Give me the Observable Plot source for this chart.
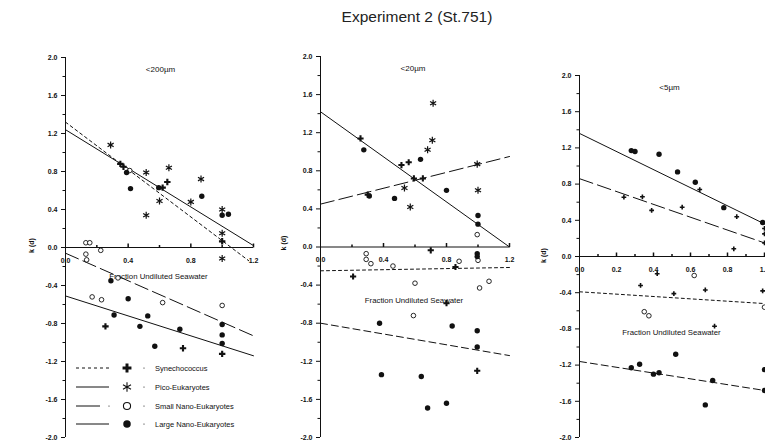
<!DOCTYPE html>
<html><head><meta charset="utf-8">
<script src="https://cdn.jsdelivr.net/npm/d3@7"></script>
<script src="https://cdn.jsdelivr.net/npm/@observablehq/plot@0.6"></script>
<style>
html,body{margin:0;padding:0;background:#fff;overflow:hidden;}
#wrap{position:relative;width:765px;height:446px;overflow:hidden;font-family:"Liberation Sans",Arial,sans-serif;}
#title{position:absolute;left:417px;top:8px;transform:translateX(-50%);white-space:nowrap;font-size:15.5px;color:#222;}
.panel{position:absolute;top:0;}
.panel svg{overflow:visible;max-width:none !important;}
#legend{position:absolute;left:0;top:0;}
</style>
</head><body>
<div id="wrap"><div id="title">Experiment 2 (St.751)</div></div>
<script>
// ---------- labels ----------
const chartTitle = "Experiment 2 (St.751)";
const panelTitles = ["<200µm", "<20µm", "<5µm"];
const seriesNames = ["Synechococcus", "Pico-Eukaryotes", "Small Nano-Eukaryotes", "Large Nano-Eukaryotes"];
const xAxisTitle = "Fraction Undiluted Seawater";
const yAxisTitle = "k (d)";
const yTickLabels = [2.0, 1.6, 1.2, 0.8, 0.4, 0.0, -0.4, -0.8, -1.2, -1.6, -2.0];
const yMinorTicks = [1.8, 1.4, 1.0, 0.6, 0.2, -0.2, -0.6, -1.0, -1.4, -1.8];
const xTickLabelsAB = [0.0, 0.4, 0.8, 1.2];
const xTicksAB = [0.2, 0.4, 0.6, 0.8, 1.0, 1.2];
const xTickLabelsC = [0.0, 0.2, 0.4, 0.6, 0.8, 1.0];
const xTicksC = [0.1, 0.2, 0.3, 0.4, 0.5, 0.6, 0.7, 0.8, 0.9, 1.0, 1.1, 1.2];

// ---------- panel A: <200µm ----------
const aSyn = [[0.35,0.88],[0.37,0.85],[0.62,0.63],[0.65,0.69],[1.0,0.065],[0.255,-0.83],[0.75,-1.06],[1.0,-1.12]];
const aPico = [[0.288,1.08],[0.515,0.79],[0.515,0.34],[0.66,0.84],[0.60,0.49],[0.80,0.48],[0.865,0.72],[1.0,0.40],[1.0,0.15],[1.0,-0.115]];
const aSmall = [[0.13,0.05],[0.155,0.05],[0.13,-0.07],[0.135,-0.13],[0.225,-0.03],[0.41,0.81],[0.335,-0.32],[0.17,-0.52],[0.23,-0.55],[0.62,-0.58],[1.0,-0.61]];
const aLarge = [[0.39,0.79],[0.415,0.62],[0.595,0.63],[0.87,0.54],[1.0,0.34],[1.04,0.35],[0.29,-0.35],[0.40,-0.54],[0.31,-0.71],[0.525,-0.72],[0.475,-0.83],[0.57,-1.04],[0.73,-0.86],[1.0,-0.81],[1.0,-0.92],[1.0,-1.01]];
const aFitShort = [[0,1.32],[1.17,-0.14]];
const aFitSolid = [[0,1.24],[1.2,0.02]];
const aFitLong = [[0,-0.06],[1.2,-0.93]];
const aFitSolid2 = [[0,-0.51],[1.2,-1.14]];

// ---------- panel B: <20µm ----------
const bSyn = [[0.254,1.14],[0.30,0.55],[0.514,0.86],[0.56,0.89],[0.593,0.72],[0.65,0.72],[0.70,-0.035],[0.857,-0.21],[0.207,-0.31],[0.80,-0.59],[0.995,-1.30]];
const bPico = [[0.533,0.62],[0.57,0.42],[0.68,1.02],[0.71,1.12],[0.715,1.51],[0.995,0.87],[1.0,0.595]];
const bSmall = [[0.995,0.13],[0.29,-0.07],[0.29,-0.13],[0.32,-0.175],[0.46,-0.2],[0.88,-0.15],[1.0,-0.14],[0.60,-0.38],[1.01,-0.43],[1.07,-0.36],[0.59,-0.72]];
const bLarge = [[0.275,1.02],[0.31,0.535],[0.47,0.51],[0.635,0.92],[0.80,0.595],[1.0,0.33],[1.0,0.24],[0.995,-0.07],[0.995,-0.10],[0.375,-0.80],[0.836,-0.83],[0.995,-0.88],[0.995,-1.05],[0.387,-1.34],[0.64,-1.36],[0.68,-1.69],[0.80,-1.64]];
const bFitSolid = [[0,1.42],[1.2,0.0]];
const bFitLong = [[0,0.45],[1.2,0.95]];
const bFitShort = [[0,-0.25],[1.2,-0.215]];
const bFitMedium = [[0,-0.80],[1.2,-1.14]];

// ---------- panel C: <5µm ----------
const cSyn = [[0.65,0.74],[0.24,0.655],[0.34,0.66],[0.39,0.51],[0.555,0.545],[0.85,0.44],[0.834,0.085],[1.0,0.31],[1.0,0.25],[1.0,0.15],[0.42,-0.19],[0.33,-0.32],[0.68,-0.37],[0.51,-0.41],[0.99,-0.38],[0.73,-0.77]];
const cPico = [];
const cSmall = [[0.62,-0.21],[1.0,-0.56],[0.35,-0.61],[0.375,-0.655]];
const cLarge = [[0.28,1.17],[0.30,1.16],[0.43,1.13],[0.53,0.935],[0.626,0.82],[0.78,0.54],[0.99,0.375],[0.52,-1.08],[0.325,-1.19],[0.28,-1.23],[0.40,-1.30],[0.43,-1.285],[0.72,-1.37],[0.68,-1.64],[1.0,-1.25],[1.0,-1.48]];
const cFitSolid = [[0,1.36],[1.0,0.36]];
const cFitLong = [[0,0.86],[1.0,0.15]];
const cFitShort = [[0,-0.39],[1.0,-0.52]];
const cFitMedium = [[0,-1.16],[1.0,-1.48]];

// ---------- styles ----------
const INK = "#111";
const FONT = "'Liberation Sans', Arial, sans-serif";
const DASH = {short: "3,3", solid: null, long: "14,5", medium: "7,4"};
const tickUp = {draw(ctx){ ctx.moveTo(0,0); ctx.lineTo(0,-4); }};
const tickUpMinor = {draw(ctx){ ctx.moveTo(0,0); ctx.lineTo(0,-2.5); }};

function panel(cfg) {
  const fx = d => d[0], fy = d => d[1];
  const lineMarks = cfg.lines.map(([pts, dash]) =>
    Plot.line(pts, {x: fx, y: fy, stroke: INK, strokeWidth: 1, strokeDasharray: DASH[dash]}));
  return Plot.plot({
    width: cfg.width, height: 446,
    marginTop: cfg.marginTop, marginBottom: 9, marginLeft: cfg.marginLeft, marginRight: cfg.marginRight,
    x: {domain: [0, 1.2], axis: null},
    y: {domain: [-2, 2], axis: null},
    style: {fontFamily: FONT, fontSize: "7px", color: INK, background: "transparent"},
    marks: [
      Plot.ruleX([0], {stroke: INK, strokeWidth: 1}),
      Plot.ruleY([0], {x1: 0, x2: 1.2, stroke: INK, strokeWidth: 1}),
      Plot.axisY({ticks: yTickLabels, tickSize: 4, tickPadding: 4, tickFormat: d => d.toFixed(1), fontSize: 7, fontWeight: 600, stroke: INK}),
      Plot.axisY({ticks: yMinorTicks, tickSize: 2.5, tickFormat: () => "", stroke: INK}),
      Plot.dot(cfg.xTicks, {x: d => d, y: 0, symbol: tickUp, stroke: INK, fill: "none", r: 2}),
      Plot.dot(cfg.xMinor, {x: d => d, y: 0, symbol: tickUpMinor, stroke: INK, fill: "none", r: 2}),
      Plot.text(cfg.xLabels, {x: d => d, y: 0, text: d => d.toFixed(1), dy: 13, fontSize: 7, fontWeight: 600, fill: INK}),
      Plot.text([cfg.title], {frameAnchor: "top", dx: cfg.titleDx, dy: 9, fontSize: 8, fill: INK}),
      Plot.text([xAxisTitle], {frameAnchor: "top", dx: cfg.fracDx, dy: cfg.fracDy, fontSize: 7.8, fill: INK}),
      Plot.text([yAxisTitle], {frameAnchor: "left", dx: cfg.yLabDx, dy: cfg.yLabDy, rotate: -90, textAnchor: "middle", fontSize: 7, fontWeight: 600, fill: INK}),
      ...lineMarks,
      Plot.dot(cfg.small, {x: fx, y: fy, symbol: "circle", stroke: INK, fill: "white", strokeWidth: 0.9, r: 2.3}),
      Plot.dot(cfg.pico, {x: fx, y: fy, symbol: "asterisk", stroke: INK, strokeWidth: 1.2, r: 3.3}),
      Plot.dot(cfg.syn, {x: fx, y: fy, symbol: "cross", fill: INK, r: cfg.crossR}),
      Plot.dot(cfg.large, {x: fx, y: fy, symbol: "circle", fill: INK, r: 2.7})
    ]
  });
}

const wrap = document.getElementById("wrap");
function place(svg, left, width) {
  const d = document.createElement("div");
  d.className = "panel"; d.style.left = left + "px"; d.style.width = width + "px";
  d.appendChild(svg); wrap.appendChild(d);
}

place(panel({width: 270, marginLeft: 65, marginRight: 17, marginTop: 57,
  xTicks: xTickLabelsAB.filter(v => v > 0), xMinor: xTicksAB.filter(v => !xTickLabelsAB.includes(v)), xLabels: xTickLabelsAB,
  title: panelTitles[0], titleDx: 1, fracDx: -1, fracDy: 216, yLabDx: -34, yLabDy: -2, crossR: 2.7,
  syn: aSyn, pico: aPico, small: aSmall, large: aLarge,
  lines: [[aFitShort, "short"], [aFitSolid, "solid"], [aFitLong, "long"], [aFitSolid2, "solid"]]}), 0, 270);

place(panel({width: 250, marginLeft: 50, marginRight: 11, marginTop: 56,
  xTicks: xTickLabelsAB.filter(v => v > 0), xMinor: xTicksAB.filter(v => !xTickLabelsAB.includes(v)), xLabels: xTickLabelsAB,
  title: panelTitles[1], titleDx: -2, fracDx: -1, fracDy: 241, yLabDx: -37, yLabDy: -4, crossR: 2.6,
  syn: bSyn, pico: bPico, small: bSmall, large: bLarge,
  lines: [[bFitSolid, "solid"], [bFitLong, "long"], [bFitShort, "short"], [bFitMedium, "medium"]]}), 270, 250);

place(panel({width: 291, marginLeft: 59, marginRight: 10, marginTop: 75,
  xTicks: [0.2, 0.4, 0.6, 0.8, 1.0, 1.2], xMinor: xTicksC.filter(v => !xTickLabelsC.some(t => Math.abs(t - v) < 1e-9) && v < 1.15), xLabels: xTickLabelsC,
  title: panelTitles[2], titleDx: -21, fracDx: -19, fracDy: 254, yLabDx: -36, yLabDy: -1, crossR: 2.0,
  syn: cSyn, pico: cPico, small: cSmall, large: cLarge,
  lines: [[cFitSolid, "solid"], [cFitLong, "long"], [cFitShort, "short"], [cFitMedium, "medium"]]}), 520, 291);

// ---------- legend (inside panel A) ----------
const legendRows = [
  {name: seriesNames[0], dash: "3,3", x2: 109, sym: d3.symbolCross, fill: INK, stroke: "none", size: 44},
  {name: seriesNames[1], dash: null, x2: 109, sym: d3.symbolAsterisk, fill: "none", stroke: INK, size: 60},
  {name: seriesNames[2], dash: null, x2: 100, sym: d3.symbolCircle, fill: "white", stroke: INK, size: 40},
  {name: seriesNames[3], dash: null, x2: 109, sym: d3.symbolCircle, fill: INK, stroke: "none", size: 44}
];
const legendY = [368, 387, 406, 424];
const lg = d3.select(wrap).append("svg").attr("id", "legend").attr("width", 270).attr("height", 446)
  .style("font-family", FONT);
legendRows.forEach((r, i) => {
  const y = legendY[i];
  lg.append("line").attr("x1", 76).attr("x2", r.x2).attr("y1", y).attr("y2", y)
    .attr("stroke", INK).attr("stroke-width", 1).attr("stroke-dasharray", r.dash);
  if (i === 2) lg.append("circle").attr("cx", 109).attr("cy", y).attr("r", 0.6).attr("fill", INK);
  lg.append("path").attr("d", d3.symbol(r.sym, r.size)()).attr("transform", `translate(127,${y})`)
    .attr("fill", r.fill).attr("stroke", r.stroke).attr("stroke-width", 1.1);
  lg.append("circle").attr("cx", 144).attr("cy", y).attr("r", 0.6).attr("fill", INK);
  lg.append("text").attr("x", 155).attr("y", y).attr("dy", "0.35em").attr("font-size", 7.5).attr("fill", INK).text(r.name);
});
</script>
</body></html>
